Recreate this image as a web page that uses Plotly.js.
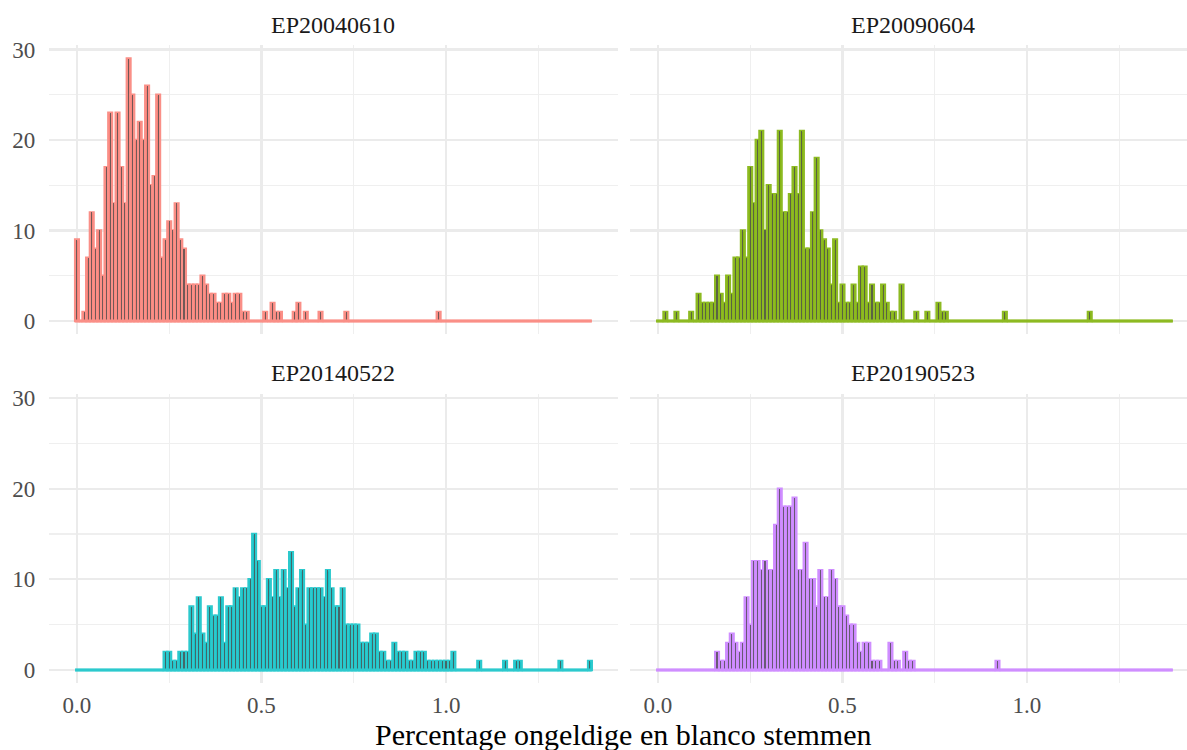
<!DOCTYPE html>
<html><head><meta charset="utf-8">
<script src="https://cdn.plot.ly/plotly-3.0.1.min.js"></script>
<style>html,body{margin:0;padding:0;background:#fff}#chart{width:1187px;height:750px}</style>
</head><body><div id="chart"></div>
<script>
// Histogram bins: centre of the first bin and bin width (percentage points)
const binStart = 0;
const binWidth = 0.01;

const elections = ["EP20040610", "EP20090604", "EP20140522", "EP20190523"];
const colors = ["#F8766D", "#7CAE00", "#00BFC4", "#C77CFF"];
const outlines = ["#FA8F87", "#8DBA22", "#2CC9CD", "#CF8EFF"];

// Number of municipalities per 0.01 %-point bin (bins centred at 0.00 ... 1.39)
const counts2004 = [
  9,0,1,7,12,8,10,5,17,23,
  13,23,17,13,29,25,20,22,20,26,
  15,16,25,7,9,11,10,13,9,8,
  4,4,4,4,5,4,3,3,2,2,
  3,3,2,3,3,1,1,0,0,0,
  0,1,0,2,1,1,0,0,0,1,
  2,0,1,0,0,0,1,0,0,0,
  0,0,0,1,0,0,0,0,0,0,
  0,0,0,0,0,0,0,0,0,0,
  0,0,0,0,0,0,0,0,1,0,
  0,0,0,0,0,0,0,0,0,0,
  0,0,0,0,0,0,0,0,0,0,
  0,0,0,0,0,0,0,0,0,0,
  0,0,0,0,0,0,0,0,0,0
];
const counts2009 = [
  0,0,1,0,0,1,0,0,0,1,
  0,3,2,2,2,2,5,3,2,5,
  3,7,7,10,7,17,13,20,21,10,
  15,14,14,21,12,12,14,17,14,21,
  8,8,12,18,10,9,8,4,9,2,
  4,2,2,4,2,6,6,2,4,2,
  2,4,2,1,1,0,4,0,0,0,
  1,0,0,1,0,0,2,1,1,0,
  0,0,0,0,0,0,0,0,0,0,
  0,0,0,0,1,0,0,0,0,0,
  0,0,0,0,0,0,0,0,0,0,
  0,0,0,0,0,0,0,1,0,0,
  0,0,0,0,0,0,0,0,0,0,
  0,0,0,0,0,0,0,0,0,0
];
const counts2014 = [
  0,0,0,0,0,0,0,0,0,0,
  0,0,0,0,0,0,0,0,0,0,
  0,0,0,0,2,2,1,1,2,2,
  2,7,4,8,4,3,7,6,6,8,
  3,7,7,9,8,9,9,10,15,12,
  7,7,10,8,11,8,11,9,13,7,
  9,11,5,9,9,9,9,8,11,9,
  7,7,9,5,5,5,5,3,3,3,
  4,4,2,2,1,1,3,2,2,2,
  1,1,2,2,2,1,1,1,1,1,
  1,1,2,0,0,0,0,0,0,1,
  0,0,0,0,0,0,1,0,0,1,
  1,0,0,0,0,0,0,0,0,0,
  0,1,0,0,0,0,0,0,0,1
];
const counts2019 = [
  0,0,0,0,0,0,0,0,0,0,
  0,0,0,0,0,0,2,1,1,3,
  4,3,2,3,8,5,12,12,11,12,
  11,11,16,20,18,18,18,19,11,11,
  14,10,10,7,11,8,8,11,10,7,
  7,6,5,5,3,2,3,3,1,1,
  1,0,0,3,1,1,0,2,1,1,
  0,0,0,0,0,0,0,0,0,0,
  0,0,0,0,0,0,0,0,0,0,
  0,0,1,0,0,0,0,0,0,0,
  0,0,0,0,0,0,0,0,0,0,
  0,0,0,0,0,0,0,0,0,0,
  0,0,0,0,0,0,0,0,0,0,
  0,0,0,0,0,0,0,0,0,0
];

const xTickVals = [0, 0.5, 1.0];
const xTickText = ["0.0", "0.5", "1.0"];
const yTickVals = [0, 10, 20, 30];

const allCounts = [counts2004, counts2009, counts2014, counts2019];
const FONT = "Liberation Serif, Times New Roman, serif";

const W = 1187, H = 750;
const px = v => v / W, py = v => (H - v) / H;

const traces = [];
allCounts.forEach((cnt, p) => {
  const xa = p === 0 ? "x" : "x" + (p + 1);
  const ya = p === 0 ? "y" : "y" + (p + 1);
  const centers = cnt.map((_, i) => binStart + i * binWidth);
  const lo = centers[0] - binWidth / 2, hi = centers[centers.length - 1] + binWidth / 2;
  traces.push({type: "scatter", mode: "lines", x: [lo, hi], y: [0, 0], xaxis: xa, yaxis: ya,
    line: {color: outlines[p], width: 3}, hoverinfo: "skip", showlegend: false});
  traces.push({type: "bar", x: centers, y: cnt, width: binWidth, xaxis: xa, yaxis: ya,
    marker: {color: colors[p], line: {color: outlines[p], width: 2.4}}, showlegend: false});
  traces.push({type: "bar", x: centers, y: cnt, width: binWidth * 0.28, xaxis: xa, yaxis: ya,
    marker: {color: "rgba(80,80,80,0.8)", line: {width: 0}}, showlegend: false, hoverinfo: "skip"});
});

const gridMajor = "#EBEBEB";
function xAxis(dom, rng, anchor, showLabels) {
  return {domain: dom, range: rng, anchor: anchor, tickvals: xTickVals, ticktext: xTickText,
    showticklabels: showLabels, ticks: "", showgrid: true, gridcolor: gridMajor, gridwidth: 2.2,
    minor: {tickvals: [0.25, 0.75, 1.25], showgrid: true, gridcolor: "#EFEFEF", gridwidth: 1.1, ticks: ""},
    zeroline: false, showline: false, tickfont: {family: FONT, size: 23, color: "#4D4D4D"},
    ticklabelstandoff: 6, fixedrange: true};
}
function yAxis(dom, anchor, showLabels) {
  return {domain: dom, range: [-1.45, 30.45], anchor: anchor, tickvals: yTickVals,
    showticklabels: showLabels, ticks: "", showgrid: true, gridcolor: gridMajor, gridwidth: 2.2,
    minor: {tickvals: [5, 15, 25], showgrid: true, gridcolor: "#EFEFEF", gridwidth: 1.1, ticks: ""},
    zeroline: false, showline: false, tickfont: {family: FONT, size: 23, color: "#4D4D4D"},
    ticklabelstandoff: 13, fixedrange: true};
}

const leftDom = [px(49.3), px(617.6)];
const rightDom = [px(630.3), 1];
const leftRange = [-0.075, 1.465];
const rightRange = [-0.075, (W - 658) / 369];
const topDom = [py(334.1), py(45.4)];
const botDom = [py(683.2), py(393.8)];

function strip(text, x, y) {
  return {text: text, x: px(x), y: py(y), xref: "paper", yref: "paper", xanchor: "center", yanchor: "middle",
    showarrow: false, font: {family: FONT, size: 24, color: "#1A1A1A"}};
}

const layout = {
  width: W, height: H, margin: {l: 0, r: 0, t: 0, b: 0},
  paper_bgcolor: "#fff", plot_bgcolor: "rgba(0,0,0,0)", barmode: "overlay", bargap: 0,
  showlegend: false, font: {family: FONT},
  xaxis: xAxis(leftDom, leftRange, "y", false),
  yaxis: yAxis(topDom, "x", true),
  xaxis2: xAxis(rightDom, rightRange, "y2", false),
  yaxis2: yAxis(topDom, "x2", false),
  xaxis3: xAxis(leftDom, leftRange, "y3", true),
  yaxis3: yAxis(botDom, "x3", true),
  xaxis4: xAxis(rightDom, rightRange, "y4", true),
  yaxis4: yAxis(botDom, "x4", false),
  annotations: [
    strip(elections[0], 333, 25),
    strip(elections[1], 913, 25),
    strip(elections[2], 333, 373),
    strip(elections[3], 913, 373),
    {text: "Percentage ongeldige en blanco stemmen", x: px(623), y: py(734), xref: "paper", yref: "paper",
      xanchor: "center", yanchor: "middle", showarrow: false, font: {family: FONT, size: 30, color: "#000"}}
  ]
};

Plotly.newPlot("chart", traces, layout, {displayModeBar: false, staticPlot: true});
</script></body></html>
